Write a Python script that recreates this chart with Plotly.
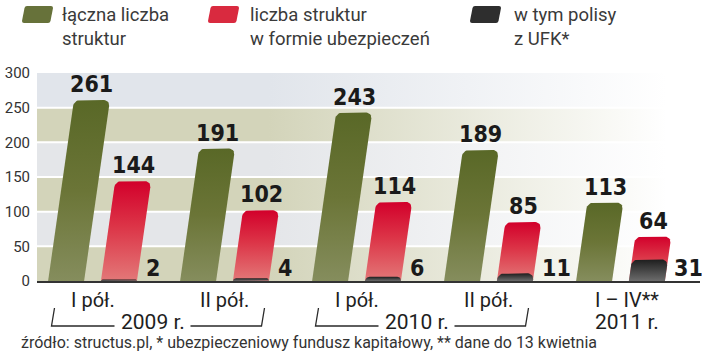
import numpy as np
import plotly.graph_objects as go

# ---------------- data ----------------
periods = ["I pół.", "II pół.", "I pół.", "II pół.", "I – IV**"]
years = ["2009 r.", "2010 r.", "2011 r."]
year_groups = [(0, 1), (2, 3), (4, 4)]
total = [261, 191, 243, 189, 113]          # łączna liczba struktur
insurance = [144, 102, 114, 85, 64]        # liczba struktur w formie ubezpieczeń
ufk = [2, 4, 6, 11, 31]                    # w tym polisy z UFK*
y_ticks = [0, 50, 100, 150, 200, 250, 300]
legend_lines = [("łączna liczba", "struktur"),
                ("liczba struktur", "w formie ubezpieczeń"),
                ("w tym polisy", "z UFK*")]
source = "źródło: structus.pl, * ubezpieczeniowy fundusz kapitałowy, ** dane do 13 kwietnia"

# ---------------- layout constants ----------------
W, H = 702, 356
ML, MR, MT, MB = 37, 2, 73, 75
PW, PH = W - ML - MR, H - MT - MB
Y_MAX = 300
PXG = 132.0                      # pixels per group
X_MIN = -55.5 / PXG              # group 0 centre sits 55.5 px right of the plot's left edge
X_MAX = X_MIN + PW / PXG
PY = PH / Y_MAX                  # pixels per unit
BAR_W = 36.0
OFF = 0.2
SLANT = 0.143
RAD = 6.0

GREEN = [[0, "#858d5d"], [0.5, "#6b7537"], [1, "#596827"]]
RED = [[0, "#e37878"], [0.55, "#dc3447"], [1, "#d2002b"]]
BLACK = [[0, "#6c6c6c"], [1, "#1e1e1e"]]
KHAKI = "#d3d4ba"
GREY = "#e4e6e9"
TOPG = "#e1e5eb"
band_cols = [KHAKI, GREY, KHAKI, GREY, KHAKI, TOPG]

TXT = "#333333"
VAL_FONT = dict(family="Liberation Sans Narrow, DejaVu Sans Condensed, Roboto Condensed, Roboto",
                size=23, color="#1a1a1a", weight="bold")
REG = "Roboto, Open Sans, sans-serif"


def bar_outline(xc, v):
    h = v * PY
    hw = BAR_W / 2
    r = min(RAD, h, hw)
    pts = [(-hw, 0.0), (hw, 0.0)]
    for a in np.linspace(0, np.pi / 2, 9):
        pts.append((hw - r + r * np.cos(a), h - r + r * np.sin(a)))
    for a in np.linspace(np.pi / 2, np.pi, 9):
        pts.append((-hw + r + r * np.cos(a), h - r + r * np.sin(a)))
    pts.append((-hw, 0.0))
    xs = [xc + (px + SLANT * py) / PXG for px, py in pts]
    ys = [py / PY for px, py in pts]
    return xs, ys


def top_x(xc, v):
    return xc + SLANT * v * PY / PXG


def xpaper(px):
    return (px - ML) / PW


def ypaper(py):
    return (H - MB - py) / PH


def data_to_px(x):
    return ML + (x - X_MIN) * PXG


fig = go.Figure()

# background bands
for k in range(len(y_ticks) - 1):
    y0, y1 = y_ticks[k], y_ticks[k + 1]
    c = band_cols[k]
    fig.add_trace(go.Scatter(
        x=[X_MIN, X_MAX, X_MAX, X_MIN, X_MIN], y=[y0, y0, y1, y1, y0],
        mode="lines", line=dict(width=0), fill="toself",
        fillgradient=dict(type="horizontal",
                          colorscale=[[0, c], [0.35, c], [0.95, "#ffffff"], [1, "#ffffff"]]),
        hoverinfo="skip", showlegend=False))

# white grid lines under the bars
for t in y_ticks[1:-1]:
    fig.add_trace(go.Scatter(x=[X_MIN, X_MAX], y=[t, t], mode="lines",
                             line=dict(color="#ffffff", width=2),
                             hoverinfo="skip", showlegend=False))

annotations = []
for i in range(len(periods)):
    for xc, v, cs in [(i - OFF, total[i], GREEN), (i + OFF, insurance[i], RED), (i + OFF, ufk[i], BLACK)]:
        xs, ys = bar_outline(xc, v)
        fig.add_trace(go.Scatter(
            x=xs, y=ys, mode="lines", line=dict(width=0), fill="toself",
            fillgradient=dict(type="vertical", colorscale=cs),
            hoverinfo="skip", showlegend=False))
    # value labels
    for xc, v in [(i - OFF, total[i]), (i + OFF, insurance[i])]:
        annotations.append(dict(x=top_x(xc, v), y=v, xref="x", yref="y", text=str(v),
                                showarrow=False, xanchor="center", yanchor="bottom",
                                yshift=1, font=VAL_FONT))
    annotations.append(dict(x=i + OFF + (BAR_W / 2) / PXG, y=0, xref="x", yref="y",
                            text=str(ufk[i]), showarrow=False, xanchor="left",
                            yanchor="bottom", xshift=7, yshift=-2, font=VAL_FONT))

# category labels
for i, p in enumerate(periods):
    annotations.append(dict(x=i, y=ypaper(300), xref="x", yref="paper", text=p,
                            showarrow=False, xanchor="center", yanchor="middle",
                            xshift=6 if i == 4 else 0,
                            font=dict(family=REG, size=20, color="#1e1e1e")))

shapes = []
for (g0, g1), yr in zip(year_groups, years):
    if g0 == g1:
        cx = data_to_px(g0) + 6
        annotations.append(dict(x=xpaper(cx), y=ypaper(322), xref="paper", yref="paper",
                                text=yr, showarrow=False, xanchor="center", yanchor="middle",
                                font=dict(family=REG, size=21, color="#1e1e1e")))
        continue
    left = data_to_px(g0) - 41
    right = data_to_px(g1) + 37
    cx = (left + right) / 2 - 4
    annotations.append(dict(x=xpaper(cx), y=ypaper(322), xref="paper", yref="paper",
                            text=yr, showarrow=False, xanchor="center", yanchor="middle",
                            font=dict(family=REG, size=21, color="#1e1e1e")))
    yt, yb = 308, 326
    path = (f"M{xpaper(left + 3)},{ypaper(yt)} L{xpaper(left)},{ypaper(yb)} L{xpaper(cx - 38)},{ypaper(yb)} "
            f"M{xpaper(cx + 38)},{ypaper(yb)} L{xpaper(right)},{ypaper(yb)} L{xpaper(right + 3)},{ypaper(yt)}")
    shapes.append(dict(type="path", path=path, xref="paper", yref="paper",
                       line=dict(color="#2a2a2a", width=1.3)))

# legend
sw_cols = ["#67723a", "#d92a3f", "#2e2e2e"]
sw_x = [22, 208, 470]
tx_x = [60, 248, 512]
for (l1, l2), sx, tx, col in zip(legend_lines, sw_x, tx_x, sw_cols):
    bl, br, tr, tl = (sx, 23), (sx + 28, 23), (sx + 31, 6), (sx + 3, 6)
    path = (f"M{xpaper(bl[0]+2)},{ypaper(bl[1])} L{xpaper(br[0]-2)},{ypaper(br[1])} "
            f"Q{xpaper(br[0])},{ypaper(br[1])} {xpaper(br[0]+0.5)},{ypaper(br[1]-2)} "
            f"L{xpaper(tr[0])},{ypaper(tr[1]+2)} Q{xpaper(tr[0])},{ypaper(tr[1])} {xpaper(tr[0]-2)},{ypaper(tr[1])} "
            f"L{xpaper(tl[0]+2)},{ypaper(tl[1])} Q{xpaper(tl[0])},{ypaper(tl[1])} {xpaper(tl[0]-0.5)},{ypaper(tl[1]+2)} "
            f"L{xpaper(bl[0])},{ypaper(bl[1]-2)} Q{xpaper(bl[0])},{ypaper(bl[1])} {xpaper(bl[0]+2)},{ypaper(bl[1])} Z")
    shapes.append(dict(type="path", path=path, xref="paper", yref="paper",
                       fillcolor=col, line=dict(width=0)))
    for txt, yc in [(l1, 15), (l2, 39)]:
        annotations.append(dict(x=xpaper(tx), y=ypaper(yc), xref="paper", yref="paper",
                                text=txt, showarrow=False, xanchor="left", yanchor="middle",
                                font=dict(family=REG, size=18.5, color="#3a3a3a")))

annotations.append(dict(x=xpaper(19), y=ypaper(342), xref="paper", yref="paper",
                        text=source, showarrow=False, xanchor="left", yanchor="middle",
                        font=dict(family=REG, size=16, color="#333333")))

fig.update_layout(
    width=W, height=H, margin=dict(l=ML, r=MR, t=MT, b=MB),
    paper_bgcolor="#ffffff", plot_bgcolor="#ffffff",
    showlegend=False, annotations=annotations, shapes=shapes,
    xaxis=dict(range=[X_MIN, X_MAX], showgrid=False, zeroline=False, showticklabels=False,
               ticks="", showline=True, linecolor="#333333", linewidth=2, layer="above traces",
               fixedrange=True),
    yaxis=dict(range=[0, Y_MAX], tickvals=y_ticks, showgrid=True,
               gridcolor="rgba(255,255,255,0.35)", gridwidth=2, zeroline=False,
               showline=False, ticks="", ticklabelstandoff=6, layer="above traces",
               tickfont=dict(family=REG, size=15, color=TXT), fixedrange=True),
)

fig.write_html("out.html", config=dict(displayModeBar=False),
               post_script="document.body.style.margin='0px';document.body.style.overflow='hidden';")
